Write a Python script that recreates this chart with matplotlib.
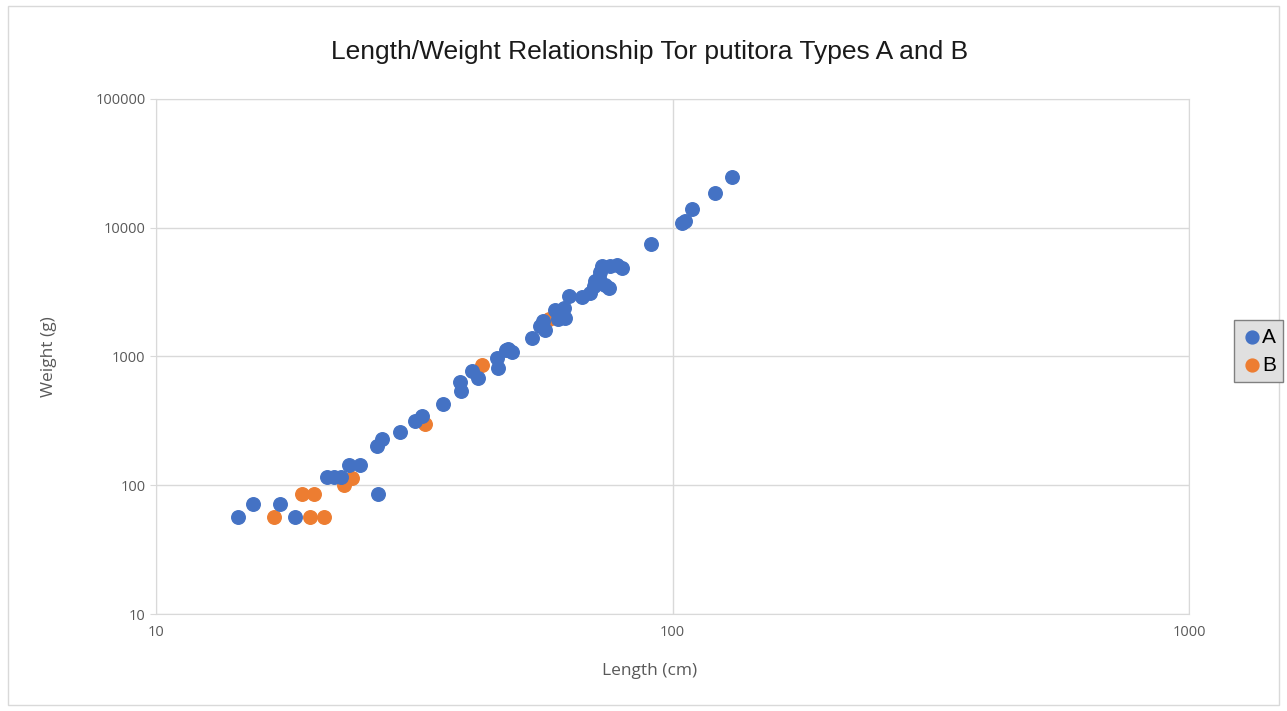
import matplotlib.pyplot as plt
from matplotlib.patches import Rectangle

# Type A (length cm, weight g)
a_len = [14.4, 15.4, 17.4, 18.6, 21.4, 22.1, 22.8, 23.6, 24.8, 26.9,
         26.8, 27.4, 29.6, 31.7, 32.7, 35.9, 38.8, 38.9, 40.9, 41.9,
         45.8, 46.0, 47.5, 48.1, 48.8, 53.4, 55.4, 56.2, 56.7, 59.3,
         61.5, 60.1, 61.9, 61.1, 62.9, 66.7, 69.3, 70.3, 70.8, 71.9,
         72.4, 73.0, 74.1, 75.2, 75.7, 78.0, 79.8, 90.9, 104.0, 105.5,
         109.0, 121.0, 130.3]
a_wt = [57, 71, 71, 57, 115, 115, 115, 143, 143, 86,
        203, 229, 260, 318, 343, 428, 630, 540, 773, 675,
        965, 820, 1120, 1137, 1083, 1400, 1720, 1880, 1620, 2315,
        2390, 1940, 2000, 2180, 2930, 2880, 3110, 3500, 3830, 4070,
        4570, 5000, 3610, 3400, 5000, 5150, 4860, 7450, 10800, 11300,
        13950, 18640, 24760]

# Type B
b_len = [16.9, 19.2, 20.2, 19.9, 21.1, 23.1, 23.9, 33.1, 42.8, 57.5]
b_wt = [57, 86, 86, 57, 57, 100, 114, 300, 855, 1940]

x_ticks = [10, 100, 1000]
y_ticks = [10, 100, 1000, 10000, 100000]

fig = plt.figure(figsize=(12.87, 7.11), dpi=100)
ax = fig.add_axes([0.1212, 0.1364, 0.8030, 0.7244])

ax.scatter(b_len, b_wt, s=95, color='#ED7D31', label='B', zorder=3)
ax.scatter(a_len, a_wt, s=95, color='#4472C4', label='A', zorder=4)

ax.set_xscale('log')
ax.set_yscale('log')
ax.set_xlim(10, 1000)
ax.set_ylim(10, 100000)
ax.set_xticks(x_ticks)
ax.set_xticklabels([str(t) for t in x_ticks])
ax.set_yticks(y_ticks)
ax.set_yticklabels([str(t) for t in y_ticks])
ax.minorticks_off()
ax.grid(True, color='#d9d9d9', linewidth=1)
ax.set_axisbelow(True)
for sp in ax.spines.values():
    sp.set_color('#d9d9d9')
ax.tick_params(axis='both', colors='#d9d9d9', labelcolor='#595959',
               labelsize=10.5, length=4)
ax.tick_params(axis='x', length=0, pad=8)
for lab in ax.get_xticklabels() + ax.get_yticklabels():
    lab.set_family('Open Sans')

fig.text(0.505, 0.927, 'Length/Weight Relationship Tor putitora Types A and B',
         ha='center', va='center', fontsize=19, color='#1a1a1a',
         family='Liberation Sans')
fig.text(0.505, 0.056, 'Length (cm)', ha='center', va='center',
         fontsize=12.5, color='#595959', family='Open Sans')
fig.text(0.038, 0.498, 'Weight (g)', ha='center', va='center', rotation=90,
         fontsize=12.5, color='#595959', family='Open Sans')

handles, labels = ax.get_legend_handles_labels()
leg = fig.legend(handles[::-1], labels[::-1], loc='center',
                 bbox_to_anchor=(0.978, 0.506), frameon=True, fancybox=False,
                 prop={'family': 'Liberation Sans', 'size': 15},
                 handletextpad=0.0, borderpad=0.35, labelspacing=0.45,
                 handlelength=1.0, markerscale=0.95)
leg.get_frame().set_facecolor('#e0e0e0')
leg.get_frame().set_edgecolor('#808080')
leg.get_frame().set_alpha(1)

fig.patches.append(Rectangle((0.006, 0.008), 0.988, 0.984, transform=fig.transFigure,
                             fill=False, edgecolor='#d9d9d9', linewidth=1))

fig.savefig('out.png', dpi=100)
